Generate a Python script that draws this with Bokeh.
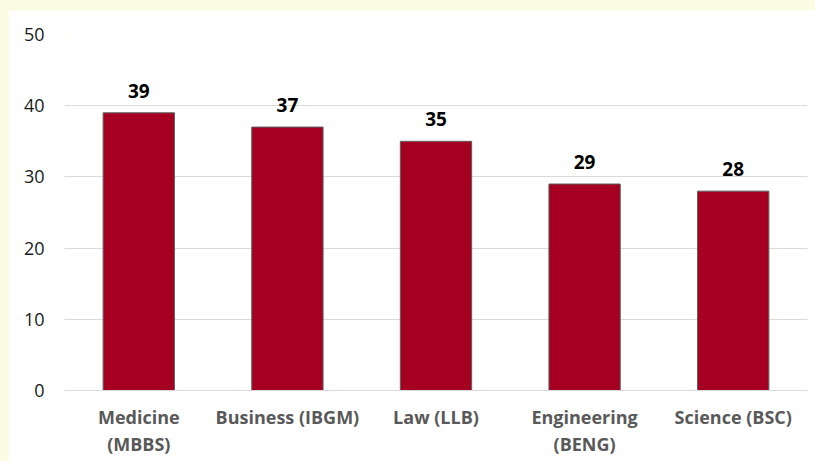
from bokeh.plotting import figure
from bokeh.models import ColumnDataSource, Range1d, FixedTicker, FactorRange, CategoricalAxis
from bokeh.layouts import column
from bokeh.core.properties import value
from bokeh.embed import file_html
from bokeh.resources import INLINE

categories = ["Medicine (MBBS)", "Business (IBGM)", "Law (LLB)", "Engineering (BENG)", "Science (BSC)"]
label_line1 = ["Medicine", "Business (IBGM)", "Law (LLB)", "Engineering", "Science (BSC)"]
label_line2 = ["(MBBS)", "", "", "(BENG)", ""]
values = [39, 37, 35, 29, 28]
y_ticks = [0, 10, 20, 30, 40, 50]

FONT = "Open Sans"

# second-line factors must be unique: pad blanks with distinct whitespace
line2_factors = [s if s else " " * (i + 1) for i, s in enumerate(label_line2)]

source = ColumnDataSource(dict(cat=label_line1, val=values, lab=[str(v) for v in values]))

p = figure(x_range=FactorRange(factors=label_line1), y_range=Range1d(0, 50), width=807, height=451,
           output_backend="svg", toolbar_location=None,
           min_border_left=56, min_border_right=8, min_border_top=24, min_border_bottom=71)
p.extra_x_ranges = {"line2": FactorRange(factors=line2_factors)}
p.margin = (10, 0, 0, 8)
p.outline_line_color = None
p.background_fill_color = "white"
p.border_fill_color = "white"

p.vbar(x="cat", top="val", width=0.48, source=source,
       fill_color="#A50021", line_color="#5F5F5F", line_width=1)

p.text(x="cat", y="val", text="lab", source=source, text_align="center",
       text_baseline="alphabetic", y_offset=-22, text_font=value(FONT),
       text_font_style="bold", text_font_size="19px", text_color="#000000")

p.xgrid.grid_line_color = None
p.ygrid.grid_line_color = "#D9D9D9"
p.ygrid.grid_line_width = 1
p.yaxis.ticker = FixedTicker(ticks=y_ticks)
p.yaxis.axis_line_color = None
p.yaxis.major_tick_line_color = None
p.yaxis.minor_tick_line_color = None
p.yaxis.major_tick_out = 0
p.yaxis.major_tick_in = 0
p.yaxis.major_label_standoff = 20
p.yaxis.major_label_text_font = FONT
p.yaxis.major_label_text_font_size = "18px"
p.yaxis.major_label_text_color = "#1A1A1A"

def style_x(ax, standoff):
    ax.major_tick_line_color = None
    ax.major_tick_out = 0
    ax.major_tick_in = 0
    ax.major_label_standoff = standoff
    ax.major_label_text_font = FONT
    ax.major_label_text_font_style = "bold"
    ax.major_label_text_font_size = "18px"
    ax.major_label_text_color = "#595959"

xa = p.xaxis[0]
xa.axis_line_color = "#D9D9D9"
xa.axis_line_width = 1
style_x(xa, 14)

xa2 = CategoricalAxis(x_range_name="line2")
xa2.axis_line_color = None
style_x(xa2, 0)
p.add_layout(xa2, "below")

layout = column(p, styles={"background-color": "#FCFBE4"})

open("out.html", "w").write(file_html(layout, INLINE))
